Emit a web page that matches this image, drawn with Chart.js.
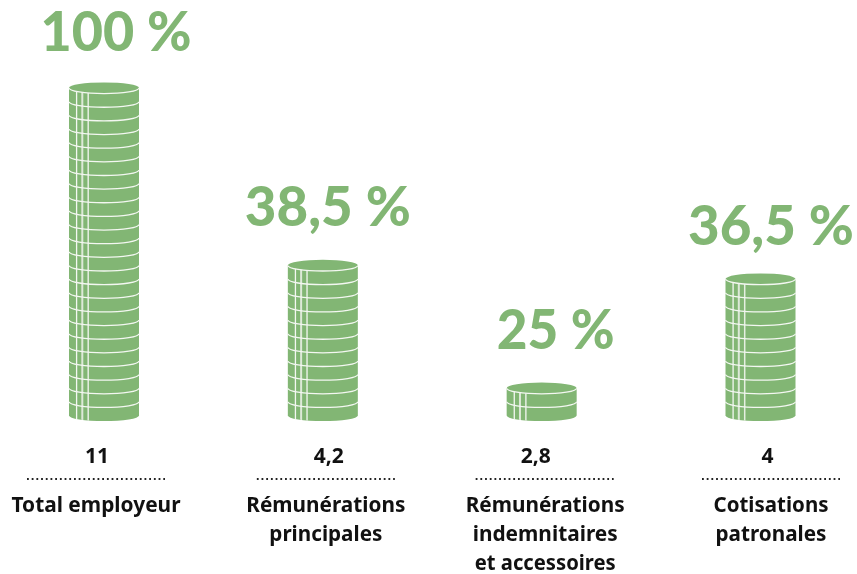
<!DOCTYPE html>
<html><head><meta charset="utf-8">
<style>html,body{margin:0;padding:0;background:#fff}canvas{display:block}</style>
<script src="https://cdn.jsdelivr.net/npm/chart.js@4"></script>
</head><body><canvas id="c" width="857" height="574"></canvas>
<script>
const categories = [["Total employeur"],["Rémunérations","principales"],["Rémunérations","indemnitaires","et accessoires"],["Cotisations","patronales"]];
const coinCounts = [24, 11, 2, 10];
const amountLabels = ["11","4,2","2,8","4"];
const percentLabels = ["100 %","38,5 %","25 %","36,5 %"];

const GREEN = "#82b674";
const rx = 35, ry = 5.6;
const pctDX = [12, 5, 14, 10.5], pctW = [151, 166, 118, 166], pctBase = [51, 226, 349, 245];
const amtDX = [-7, 6, -6, 7], amtBase = 463;
const nameDX = [-8, 3, 3.5, 10.5], nameBase = 512, nameLH = 29;
const dotDX = [-8, 3, 3, 10.5], dotY = 479, dotHalf = 69;
const nameW = [[169],[159,113],[159,145,141],[115,111]];

const coins = {
  id: "coins",
  afterDatasetsDraw(chart) {
    const ctx = chart.ctx, meta = chart.getDatasetMeta(0), ys = chart.scales.y;
    meta.data.forEach((bar, i) => {
      const x = bar.x, top = bar.y, base = bar.base;
      const l = x - rx, r = x + rx;
      ctx.save();
      ctx.beginPath();
      ctx.moveTo(l, top);
      ctx.ellipse(x, top, rx, ry, 0, Math.PI, 0);
      ctx.lineTo(r, base);
      ctx.ellipse(x, base, rx, ry, 0, 0, Math.PI);
      ctx.closePath();
      ctx.fillStyle = GREEN;
      ctx.fill();
      ctx.save();
      ctx.beginPath();
      ctx.moveTo(l, top);
      ctx.ellipse(x, top, rx, ry, 0, Math.PI, 0, true);
      ctx.lineTo(r, base);
      ctx.ellipse(x, base, rx, ry, 0, 0, Math.PI);
      ctx.closePath();
      ctx.clip();
      [[7.6,1.3,"#f4f8f2"],[13.3,2,"#dde9d8"],[19.2,1.5,"#e6efe2"]].forEach(([d,w,c]) => {
        ctx.fillStyle = c;
        ctx.fillRect(l + d - w/2, top - ry, w, base - top + 2*ry + 2);
      });
      ctx.restore();
      ctx.strokeStyle = "#f3f7f1";
      ctx.lineWidth = 1.3;
      for (let k = 1; k <= coinCounts[i]; k++) {
        const y = ys.getPixelForValue(k);
        ctx.beginPath();
        ctx.ellipse(x, y, rx, ry, 0, Math.PI, 0, true);
        ctx.stroke();
      }
      ctx.restore();

      ctx.save();
      ctx.textAlign = "center";
      ctx.textBaseline = "alphabetic";
      ctx.fillStyle = GREEN;
      ctx.font = '900 56px "Lato"';
      ctx.fillText(percentLabels[i], x + pctDX[i], pctBase[i], pctW[i]);
      ctx.fillStyle = "#111";
      ctx.font = 'bold 21px "Noto Sans"';
      ctx.fillText(amountLabels[i], x + amtDX[i], amtBase);
      categories[i].forEach((t, j) => {
        ctx.fillText(t, x + nameDX[i], nameBase + j * nameLH, nameW[i][j]);
      });
      ctx.strokeStyle = "#222";
      ctx.lineWidth = 1.8;
      ctx.lineCap = "butt";
      ctx.setLineDash([1.8, 2.9]);
      ctx.beginPath();
      ctx.moveTo(x + dotDX[i] - dotHalf, dotY);
      ctx.lineTo(x + dotDX[i] + dotHalf, dotY);
      ctx.stroke();
      ctx.restore();
    });
  }
};

new Chart(document.getElementById("c"), {
  type: "bar",
  data: {
    labels: categories,
    datasets: [{ data: coinCounts, backgroundColor: "rgba(0,0,0,0)", barThickness: 70 }]
  },
  options: {
    responsive: false,
    animation: false,
    layout: { padding: { left: 104, right: 96.5, top: 88, bottom: 158.5 } },
    plugins: { legend: { display: false }, tooltip: { enabled: false } },
    scales: {
      x: { display: false, offset: false, grid: { offset: false } },
      y: { display: false, min: 0, max: 24 }
    }
  },
  plugins: [coins]
});
</script></body></html>
